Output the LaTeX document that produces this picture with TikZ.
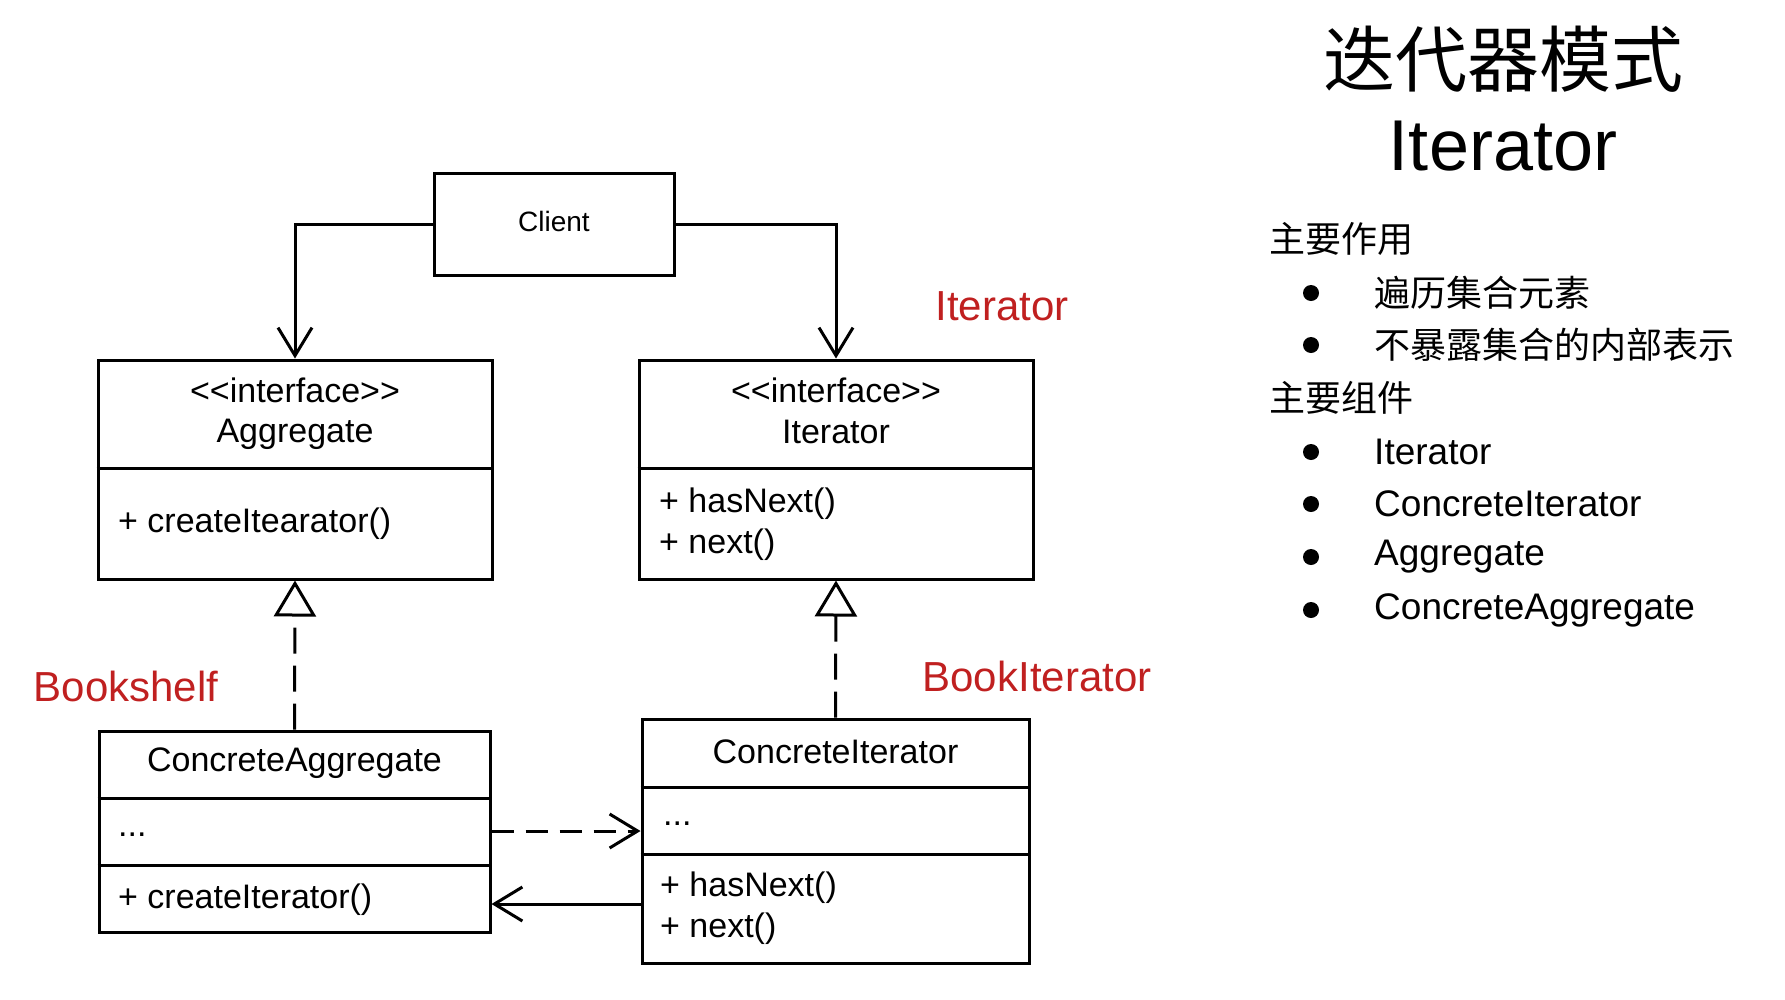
\documentclass[tikz,border=0pt]{standalone}
\usepackage{fontspec}
\setmainfont{Liberation Sans}
\newfontfamily\cjk{Noto Sans CJK SC}
\usetikzlibrary{arrows.meta}
\definecolor{lblred}{RGB}{192,32,32}
\newcommand{\stereo}[1]{<\kern0pt<#1>\kern0pt>}
\begin{document}
\begin{tikzpicture}[x=1pt,y=-1pt,
  box/.style={draw, line width=3pt, inner sep=0pt},
  txt/.style={font=\fontsize{34}{40}\selectfont, inner sep=0pt},
  txtl/.style={txt, anchor=west},
  cli/.style={font=\fontsize{28}{32}\selectfont, inner sep=0pt},
  redlbl/.style={font=\fontsize{42}{48}\selectfont, text=lblred, inner sep=0pt},
  side/.style={font=\fontsize{37}{44}\selectfont, anchor=west, inner sep=0pt},
  sidecjk/.style={font=\fontsize{36}{44}\selectfont\cjk, anchor=west, inner sep=0pt},
  dotb/.style={circle, fill, inner sep=0pt, minimum size=16pt},
  conn/.style={line width=3pt},
  assoc/.style={conn, -{Straight Barb[length=28pt,width=34pt]}},
  dep/.style={conn, dash pattern=on 22pt off 12pt, -{Straight Barb[length=28pt,width=34pt]}},
  real/.style={conn, dash pattern=on 26pt off 12pt, -{Triangle[open,length=36pt,width=42pt]}},
  divider/.style={line width=3pt}
]
\useasboundingbox (0,0) rectangle (1785,999);

% ---------- boxes ----------
\node[box, minimum width=240pt, minimum height=102pt] (client) at (554,224) {};
\node[cli] (clientt) at (554,221) {Client};

\node[box, minimum width=394pt, minimum height=219pt] (agg) at (295,469.5) {};
\draw[divider] (agg.west |- 0,468) -- (agg.east |- 0,468);
\node[txt] (aggs) at (295,390) {\stereo{interface}};
\node[txt] (aggn) at (295,434) {Aggregate};
\node[txtl] (aggm) at (118,524) {+ createItearator()};

\node[box, minimum width=394pt, minimum height=219pt] (it) at (836,469.5) {};
\draw[divider] (it.west |- 0,468) -- (it.east |- 0,468);
\node[txt] (its) at (836,390) {\stereo{interface}};
\node[txt] (itn) at (836,431.5) {Iterator};
\node[txtl] (itm1) at (659,504) {+ hasNext()};
\node[txtl] (itm2) at (659,545) {+ next()};

\node[box, minimum width=391pt, minimum height=201pt] (ca) at (294.5,831.5) {};
\draw[divider] (ca.west |- 0,798) -- (ca.east |- 0,798);
\draw[divider] (ca.west |- 0,865) -- (ca.east |- 0,865);
\node[txt] (can) at (294.5,763.5) {ConcreteAggregate};
\node[txtl] (caa) at (118,835) {...};
\node[txtl] (cam) at (118,899.5) {+ createIterator()};

\node[box, minimum width=387pt, minimum height=244pt] (ci) at (835.5,841) {};
\draw[divider] (ci.west |- 0,787) -- (ci.east |- 0,787);
\draw[divider] (ci.west |- 0,854) -- (ci.east |- 0,854);
\node[txt] (cin) at (835.5,752) {ConcreteIterator};
\node[txtl] (cia) at (663,824) {...};
\node[txtl] (cim1) at (660,887.5) {+ hasNext()};
\node[txtl] (cim2) at (660,928.5) {+ next()};

% ---------- connectors ----------
\draw[assoc] (client.west) -| (agg.north);
\draw[assoc] (client.east) -| (it.north);
\draw[real] (ca.north) -- (agg.south);
\draw[real] (ci.north) -- (it.south);
\draw[dep] (ca.east |- 0,831) -- (ci.west |- 0,831);
\draw[assoc] (ci.west |- 0,904) -- (ca.east |- 0,904);

% ---------- red labels ----------
\node[redlbl] (lit) at (1002,306) {Iterator};
\node[redlbl] (lbs) at (126,686) {Bookshelf};
\node[redlbl] (lbi) at (1037,676) {BookIterator};

% ---------- right panel ----------
\node[font=\fontsize{72}{80}\selectfont\cjk, inner sep=0pt] (title1) at (1503,59) {迭代器模式};
\node[font=\fontsize{72}{80}\selectfont, inner sep=0pt] (title2) at (1503,146) {Iterator};

\node[sidecjk] (h1) at (1269,239) {主要作用};
\node[dotb] (b1) at (1311,293) {};
\node[sidecjk] (s1) at (1374,293) {遍历集合元素};
\node[dotb] (b2) at (1311,345) {};
\node[sidecjk] (s2) at (1374,345) {不暴露集合的内部表示};
\node[sidecjk] (h2) at (1269,398) {主要组件};
\node[dotb] (b3) at (1311,452) {};
\node[side] (s3) at (1374,452) {Iterator};
\node[dotb] (b4) at (1311,504) {};
\node[side] (s4) at (1374,504) {ConcreteIterator};
\node[dotb] (b5) at (1311,557) {};
\node[side] (s5) at (1374,557) {Aggregate};
\node[dotb] (b6) at (1311,610) {};
\node[side] (s6) at (1374,610) {ConcreteAggregate};
\end{tikzpicture}
\end{document}
